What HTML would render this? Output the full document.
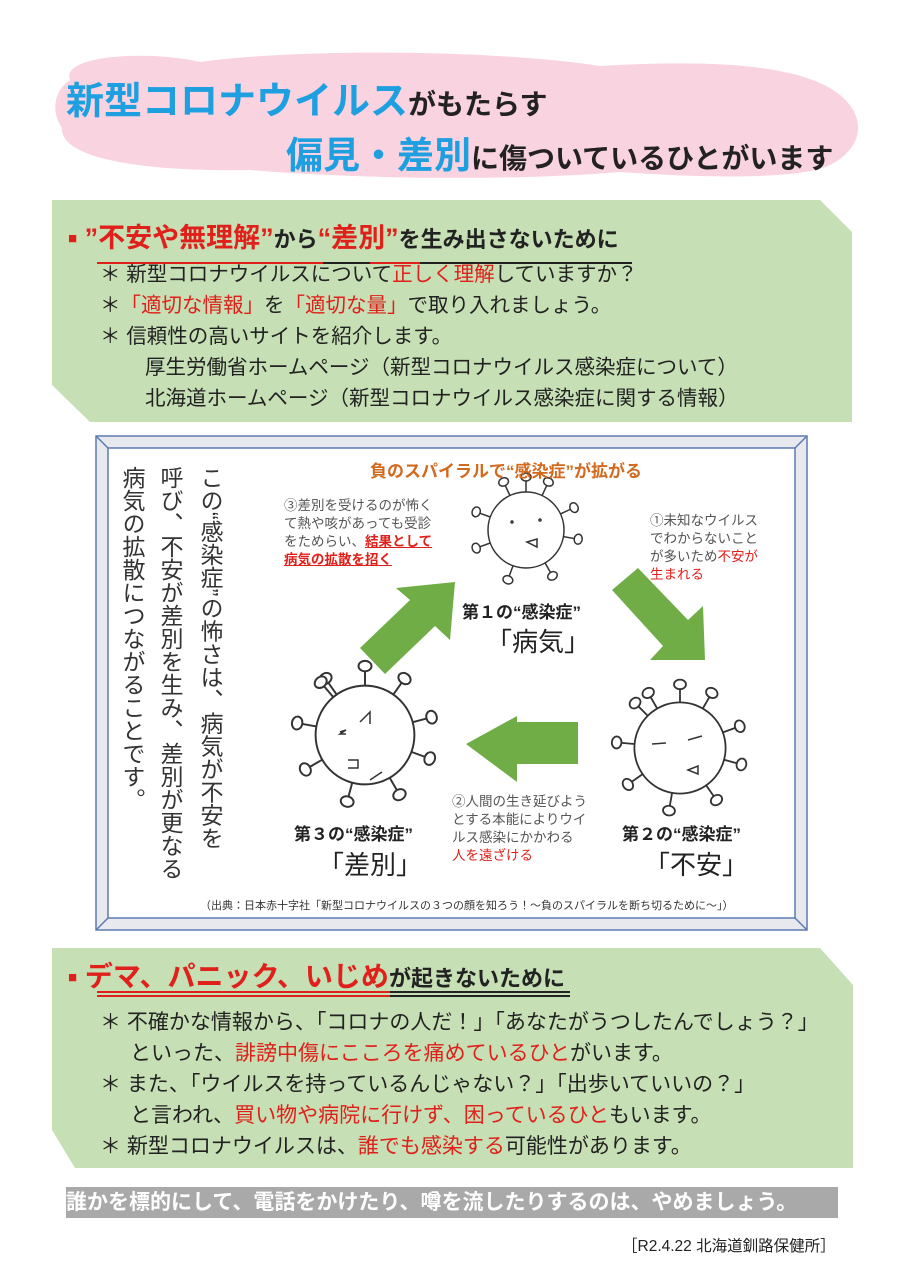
<!DOCTYPE html>
<html><head><meta charset="utf-8"><style>
body{margin:0;width:905px;height:1280px;background:#fff;position:relative;overflow:hidden;font-family:"Liberation Sans","Noto Sans CJK JP",sans-serif;color:#222}
.a{position:absolute;white-space:nowrap}
.b{font-weight:bold}
.r{color:#e0201a}
.bl{color:#1e9fe0}
.li{font-size:20.5px;line-height:31px}
.v{writing-mode:vertical-rl;font-size:23px;letter-spacing:0px;line-height:40px;position:absolute;white-space:nowrap;color:#333}
</style></head><body>
<svg class="a" style="left:0;top:0" width="905" height="1280">
 <path d="M70,80 C60,55 150,50 200,62 C300,48 500,50 600,66 C700,60 800,62 840,95 C870,120 860,150 830,165 C800,180 700,178 620,172 C500,182 350,178 250,170 C150,172 60,160 62,128 C50,110 55,90 70,80Z" fill="#fad3e1"/>
 <polygon points="52,200 820,200 852,232 852,422 90,422 52,385" fill="#c6dfb5"/>
 <polygon points="52,948 820,948 853,985 853,1168 75,1168 52,1130" fill="#c6dfb5"/>
 <rect x="96" y="436" width="711" height="494" fill="#e7e9ee" stroke="#5b7ab0" stroke-width="1.5"/>
 <rect x="108" y="448" width="687" height="470" fill="#fff" stroke="#5b7ab0" stroke-width="1.5"/>
 <path d="M96,436 L108,448 M807,436 L795,448 M96,930 L108,918 M807,930 L795,918" stroke="#5b7ab0" stroke-width="1.5"/>
 <line x1="97" y1="263" x2="323" y2="263" stroke="#e0201a" stroke-width="2"/>
 <line x1="323" y1="263" x2="370" y2="263" stroke="#222" stroke-width="2"/>
 <line x1="370" y1="263" x2="420" y2="263" stroke="#e0201a" stroke-width="2"/>
 <line x1="420" y1="263" x2="632" y2="263" stroke="#222" stroke-width="2"/>
 <line x1="97" y1="992" x2="390" y2="992" stroke="#e0201a" stroke-width="2"/>
 <line x1="97" y1="996" x2="390" y2="996" stroke="#e0201a" stroke-width="2"/>
 <line x1="390" y1="992" x2="570" y2="992" stroke="#222" stroke-width="2"/>
 <line x1="390" y1="996" x2="570" y2="996" stroke="#222" stroke-width="2"/>
 <polygon points="360,648 410,600 396,588 455,582 450,640 435,626 385,674" fill="#70ad47"/>
 <polygon points="612,590 638,568 688,620 703,606 705,660 650,660 663,646" fill="#70ad47"/>
 <polygon points="578,722 578,764 517,764 517,782 466,744 517,716 517,722" fill="#70ad47"/>
 <g fill="#fff" stroke="#333" stroke-width="1.5">
  <g transform="translate(526,530)">
   <g id="sp"><line x1="0" y1="-38" x2="0" y2="-50"/><ellipse cx="0" cy="-53" rx="5" ry="4"/></g>
   <use href="#sp" transform="rotate(-25)"/><use href="#sp" transform="rotate(25)"/><use href="#sp" transform="rotate(65)"/><use href="#sp" transform="rotate(100)"/><use href="#sp" transform="rotate(150)"/><use href="#sp" transform="rotate(200)"/><use href="#sp" transform="rotate(250)"/><use href="#sp" transform="rotate(290)"/>
   <circle r="38"/>
  </g>
  <g transform="translate(680,748) scale(1.2)">
   <use href="#sp"/><use href="#sp" transform="rotate(-30)"/><use href="#sp" transform="rotate(30)"/><use href="#sp" transform="rotate(70)"/><use href="#sp" transform="rotate(105)"/><use href="#sp" transform="rotate(145)"/><use href="#sp" transform="rotate(190)"/><use href="#sp" transform="rotate(235)"/><use href="#sp" transform="rotate(275)"/><use href="#sp" transform="rotate(315)"/>
   <circle r="38"/>
  </g>
  <g transform="translate(365,735) scale(1.3)">
   <use href="#sp"/><use href="#sp" transform="rotate(-35)"/><use href="#sp" transform="rotate(35)"/><use href="#sp" transform="rotate(75)"/><use href="#sp" transform="rotate(110)"/><use href="#sp" transform="rotate(150)"/><use href="#sp" transform="rotate(195)"/><use href="#sp" transform="rotate(240)"/><use href="#sp" transform="rotate(280)"/><use href="#sp" transform="rotate(320)"/>
   <circle r="38"/>
  </g>
 </g>
 <g stroke="#333" stroke-width="1.5" fill="none">
  <path d="M527,542 l10,-3 l0,8z"/><circle cx="512" cy="522" r="1"/><circle cx="540" cy="520" r="1"/>
  <path d="M652,744 l14,-1 M688,740 l14,-4 M688,770 l10,-4 l0,8z"/>
  <path d="M360,722 l10,-10 l0,12 M340,732 l6,-2 l-6,4 l6,0 M348,760 l10,0 l0,8 l-10,0 M370,780 l12,-8"/>
 </g>
</svg>

<div class="a b" style="left:66px;top:70px;font-size:38px"><span class="bl">新型コロナウイルス</span><span style="font-size:28px">がもたらす</span></div>
<div class="a b" style="left:286px;top:125px;font-size:37px"><span class="bl">偏見・差別</span><span style="font-size:28px">に傷ついているひとがいます</span></div>

<div class="a b" style="left:68px;top:216px;font-size:27px"><span class="r" style="font-size:15px;vertical-align:4px">■</span>&nbsp;<span class="r">”不安や無理解”</span><span style="font-size:22px">から</span><span class="r">“差別”</span><span style="font-size:22px">を生み出さないために</span></div>
<div class="a li" style="left:100px;top:259px">＊&nbsp;新型コロナウイルスについて<span class="r">正しく理解</span>していますか？</div>
<div class="a li" style="left:100px;top:290px">＊<span class="r">「適切な情報」</span>を<span class="r">「適切な量」</span>で取り入れましょう。</div>
<div class="a li" style="left:100px;top:321px">＊&nbsp;信頼性の高いサイトを紹介します。</div>
<div class="a li" style="left:145px;top:352px">厚生労働省ホームページ（新型コロナウイルス感染症について）</div>
<div class="a li" style="left:145px;top:383px">北海道ホームページ（新型コロナウイルス感染症に関する情報）</div>

<div class="v" style="left:190px;top:466px">この“感染症”の怖さは、病気が不安を</div>
<div class="v" style="left:150px;top:466px">呼び、不安が差別を生み、差別が更なる</div>
<div class="v" style="left:112px;top:466px">病気の拡散につながることです。</div>

<div class="a b" style="left:370px;top:457px;font-size:17px;color:#d2691e">負のスパイラルで“感染症”が拡がる</div>
<div class="a" style="left:284px;top:497px;font-size:13.5px;line-height:18px;color:#555">③差別を受けるのが怖く<br>て熱や咳があっても受診<br>をためらい、<span class="r b" style="text-decoration:underline">結果として</span><br><span class="r b" style="text-decoration:underline">病気の拡散を招く</span></div>
<div class="a" style="left:650px;top:512px;font-size:13.5px;line-height:18px;color:#555">①未知なウイルス<br>でわからないこと<br>が多いため<span class="r">不安が</span><br><span class="r">生まれる</span></div>
<div class="a" style="left:452px;top:793px;font-size:13.5px;line-height:18px;color:#555">②人間の生き延びよう<br>とする本能によりウイ<br>ルス感染にかかわる<br><span class="r">人を遠ざける</span></div>
<div class="a b" style="left:462px;top:598px;font-size:17px">第１の“感染症”</div>
<div class="a" style="left:486px;top:622px;font-size:26px">「病気」</div>
<div class="a b" style="left:622px;top:820px;font-size:17px">第２の“感染症”</div>
<div class="a" style="left:644px;top:845px;font-size:26px">「不安」</div>
<div class="a b" style="left:294px;top:820px;font-size:17px">第３の“感染症”</div>
<div class="a" style="left:318px;top:845px;font-size:26px">「差別」</div>
<div class="a" style="left:200px;top:897px;font-size:11px;color:#333">（出典：日本赤十字社「新型コロナウイルスの３つの顔を知ろう！～負のスパイラルを断ち切るために～」）</div>

<div class="a b" style="left:68px;top:955px;font-size:28px"><span class="r" style="font-size:15px;vertical-align:4px">■</span>&nbsp;<span class="r">デマ、パニック、いじめ</span><span style="font-size:22px">が起きないために</span></div>
<div class="a li" style="left:100px;top:1007px;font-size:21px">＊&nbsp;不確かな情報から、「コロナの人だ！」「あなたがうつしたんでしょう？」</div>
<div class="a li" style="left:130px;top:1038px;font-size:21px">といった、<span class="r">誹謗中傷にこころを痛めているひと</span>がいます。</div>
<div class="a li" style="left:100px;top:1069px;font-size:21px">＊&nbsp;また、「ウイルスを持っているんじゃない？」「出歩いていいの？」</div>
<div class="a li" style="left:130px;top:1100px;font-size:21px">と言われ、<span class="r">買い物や病院に行けず、困っているひと</span>もいます。</div>
<div class="a li" style="left:100px;top:1131px;font-size:21px">＊&nbsp;新型コロナウイルスは、<span class="r">誰でも感染する</span>可能性があります。</div>

<div class="a b" style="left:66px;top:1187px;width:772px;height:31px;background:#a9a9a9;color:#fff;font-size:21px;line-height:31px">誰かを標的にして、電話をかけたり、噂を流したりするのは、やめましょう。</div>
<div class="a" style="left:622px;top:1234px;font-size:15.5px">［R2.4.22 北海道釧路保健所］</div>
</body></html>
